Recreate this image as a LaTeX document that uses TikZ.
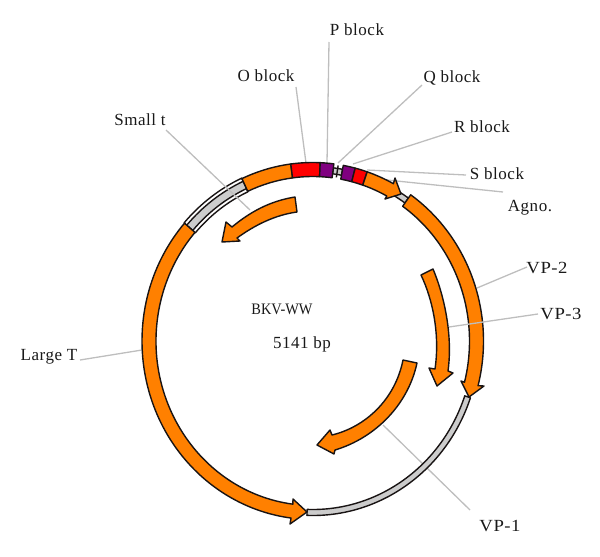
\documentclass[tikz,border=0pt]{standalone}
\usepackage{fontspec}
\setmainfont[LetterSpace=3]{Liberation Serif}
\definecolor{orangeb}{RGB}{255,128,0}
\definecolor{redb}{RGB}{255,0,0}
\definecolor{purpleb}{RGB}{128,0,128}
\definecolor{greyb}{RGB}{204,204,204}
\definecolor{leaderc}{RGB}{190,190,190}
\definecolor{edgec}{RGB}{25,20,20}
\tikzset{
  feature/.style={draw=edgec,line width=1.4pt,line join=round},
  leaderline/.style={draw=leaderc,line width=1.3pt},
  lab/.style={font=\fontsize{17}{20}\selectfont,text=black!90,inner sep=0pt},
  labwide/.style={lab,font=\fontsize{17}{20}\selectfont\addfontfeatures{FakeStretch=1.1}},
  labcaps/.style={lab,font=\fontsize{16}{20}\selectfont\addfontfeatures{LetterSpace=0,FakeStretch=0.9}},
}
\newcommand{\radii}[1]{%
  \pgfmathsetmacro{\xo}{163.75+#1}\pgfmathsetmacro{\yo}{171.5+#1}%
  \pgfmathsetmacro{\xi}{163.75-#1}\pgfmathsetmacro{\yi}{171.5-#1}}
% band: t1,t2,half-width,colour (parametric angles on the ellipse)
\newcommand{\band}[4]{\radii{#3}%
  \draw[feature,fill=#4] (#1:\xo pt and \yo pt) arc[start angle=#1,end angle=#2,x radius=\xo pt,y radius=\yo pt]
    -- (#2:\xi pt and \yi pt) arc[start angle=#2,end angle=#1,x radius=\xi pt,y radius=\yi pt] -- cycle;}
% arrow band: t1,t2, then three named head points
\newcommand{\arrowband}[5]{\radii{7}%
  \draw[feature,fill=orangeb] (#1:\xo pt and \yo pt) arc[start angle=#1,end angle=#2,x radius=\xo pt,y radius=\yo pt]
    -- (#3) -- (#4) -- (#5)
    -- (#2:\xi pt and \yi pt) arc[start angle=#2,end angle=#1,x radius=\xi pt,y radius=\yi pt] -- cycle;}
\newcommand{\leader}[5]{\coordinate (#1a) at (#2,-#3);\coordinate (#1b) at (#4,-#5);\draw[leaderline] (#1a) -- (#1b);}
\begin{document}
\begin{tikzpicture}[x=1pt,y=1pt]
\useasboundingbox (0,0) rectangle (600,-557);
% leaders behind the ring
\leader{lnP}{329}{42}{327}{163}
\leader{lnO}{296}{87}{306}{163}
\leader{lnQ}{422}{85}{338}{163}
\leader{lnR}{452}{132}{353}{164}
\leader{lnS}{466}{175}{367}{170}
\leader{lnA}{503}{192}{387}{180}
\leader{lnL}{80}{360}{142}{350}
\leader{lnVb}{527}{267}{477}{288}
\leader{lnVa}{470}{510}{383}{425}
% arrow head points
\coordinate (agA) at (395,-178);\coordinate (agB) at (401,-194);\coordinate (agC) at (385,-199);
\coordinate (vbA) at (484,-386);\coordinate (vbB) at (469,-397);\coordinate (vbC) at (461,-381);
\coordinate (ltA) at (290,-524);\coordinate (ltB) at (307,-512);\coordinate (ltC) at (293,-499);
\begin{scope}[shift={(312.75,-341)}]
  \band{-92}{-19}{3}{greyb}
  \band{55}{62}{3}{greyb}
  \band{79.7}{82.9}{3}{greyb}
  \draw[feature] (81.4:169.75pt and 177.5pt) -- (81.4:157.75pt and 165.5pt);
  \band{114.5}{138.7}{7.5}{white}
  \band{114.5}{138.7}{4}{greyb}
  \band{97.4}{114.5}{7}{orangeb}
  \band{87.5}{97.4}{7}{redb}
  \band{82.9}{87.5}{7}{purpleb}
  \band{75.6}{79.7}{7}{purpleb}
  \band{71.4}{75.6}{7}{redb}
  \arrowband{71.4}{61.8}{agA}{agB}{agC}
  \arrowband{55}{-14.5}{vbA}{vbB}{vbC}
  \arrowband{138.7}{262.7}{ltA}{ltB}{ltC}
\end{scope}
% Inner arrows
\draw[feature,fill=orangeb] (433,-269) .. controls (444,-295) and (453,-335) .. (448,-371)
  -- (453,-373) -- (437,-386) -- (429,-368) -- (435,-369)
  .. controls (440,-335) and (433,-300) .. (421,-275) -- cycle;
\draw[feature,fill=orangeb] (417,-363) .. controls (408,-405) and (375,-438) .. (335,-450)
  -- (334,-454) -- (317,-445) -- (330,-430) -- (332,-435)
  .. controls (365,-427) and (395,-400) .. (403,-360) -- cycle;
\draw[feature,fill=orangeb] (295,-197) .. controls (270,-201) and (250,-212) .. (232,-227)
  -- (226,-222) -- (222,-242) -- (240,-241) -- (237,-238)
  .. controls (255,-225) and (275,-215) .. (297,-212) -- cycle;
% leaders drawn over the ring
\leader{lnT}{166}{130}{250}{210}
\leader{lnVc}{538}{314}{449}{327}
% labels
\node[lab] (tP) at (357,-30) {P block};
\node[lab] (tO) at (266,-76) {O block};
\node[lab] (tQ) at (452,-78) {Q block};
\node[lab] (tR) at (482,-127) {R block};
\node[lab] (tS) at (497,-174) {S block};
\node[lab] (tA) at (530,-208) {Agno.};
\node[lab] (tT) at (140,-120) {Small t};
\node[lab] (tL) at (49,-357) {Large T};
\node[labwide] (tVb) at (547,-268) {VP-2};
\node[labwide] (tVc) at (561,-314) {VP-3};
\node[labwide] (tVa) at (500,-526) {VP-1};
\node[labcaps] (tB) at (282,-309) {BKV-WW};
\node[lab] (tN) at (302,-344) {5141 bp};
\end{tikzpicture}
\end{document}
